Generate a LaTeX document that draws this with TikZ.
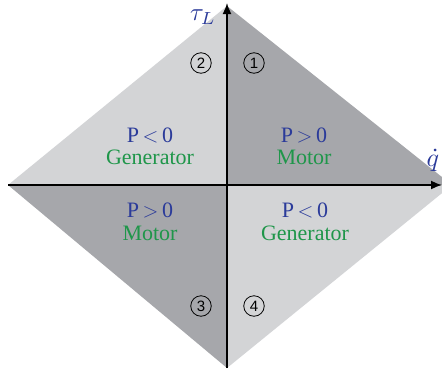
\documentclass[tikz,border=0pt]{standalone}
\usepackage{fontspec}
\usepackage{graphicx}
\setmainfont{Liberation Serif}
\newfontfamily\numfont{Liberation Sans}
\usetikzlibrary{arrows.meta}
\definecolor{lightq}{RGB}{211,212,214}
\definecolor{darkq}{RGB}{166,167,171}
\definecolor{pblue}{RGB}{43,59,154}
\definecolor{mgreen}{RGB}{31,150,74}
\tikzset{
  ptext/.style={text=pblue,font=\fontsize{22}{22}\selectfont,inner sep=0pt},
  mtext/.style={text=mgreen,font=\fontsize{22}{22}\selectfont,inner sep=0pt},
  quad/.style={circle,draw=black,line width=0.8pt,minimum size=20.5pt,inner sep=0pt,font=\numfont\fontsize{15}{15}\selectfont},
  axis/.style={line width=1.6pt,-{Latex[length=11pt,width=9pt]}},
  axlabel/.style={text=pblue,inner sep=0pt}
}
\begin{document}
\begin{tikzpicture}[x=1pt,y=-1pt]
\useasboundingbox (0,0) rectangle (442,370);
\coordinate (O) at (227,185);
\coordinate (T) at (227,6);
\coordinate (B) at (227,368);
\coordinate (L) at (8,185);
\coordinate (R) at (452,185);
\coordinate (Tax) at (227,3);
\coordinate (Rax) at (442,185);
\begin{scope}
\clip (0,0) rectangle (442,370);
\fill[lightq] (O) -- (T) -- (L) -- cycle;
\fill[darkq] (O) -- (T) -- (R) -- cycle;
\fill[darkq] (O) -- (L) -- (B) -- cycle;
\fill[lightq] (O) -- (B) -- (R) -- cycle;
\end{scope}
\draw[axis] (B) -- (Tax);
\draw[axis] (L) -- (Rax);
\node[axlabel] (tau) at (203,17) {\scalebox{2.5}{$\tau_L$}};
\node[axlabel] (qd) at (433,160) {\scalebox{2.6}{$\dot{q}$}};
\node[quad] (n2) at (201,63) {2};
\node[quad] (n1) at (254,63) {1};
\node[quad] (n3) at (201,306) {3};
\node[quad] (n4) at (254,306) {4};
\node[ptext] (p2) at (150,135) {P\,$<$\,0};
\node[mtext] (g2) at (150,157) {Generator};
\node[ptext] (p1) at (304,135) {P\,$>$\,0};
\node[mtext] (m1) at (304,157) {Motor};
\node[ptext] (p3) at (150,210) {P\,$>$\,0};
\node[mtext] (m3) at (150,233) {Motor};
\node[ptext] (p4) at (305,210) {P\,$<$\,0};
\node[mtext] (g4) at (305,233) {Generator};
\end{tikzpicture}
\end{document}
